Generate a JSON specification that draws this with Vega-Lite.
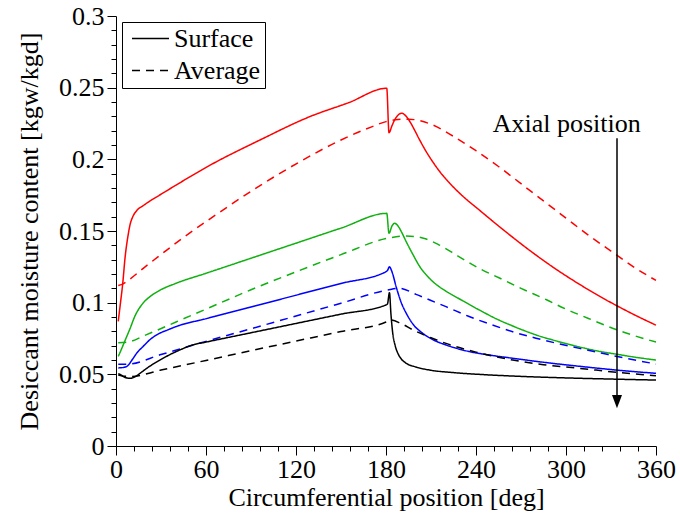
{
  "$schema": "https://vega.github.io/schema/vega-lite/v6.json",
  "width": 540,
  "height": 430,
  "autosize": {"type": "none"},
  "padding": {"left": 116, "top": 16, "right": 24, "bottom": 72},
  "background": "white",
  "config": {
    "view": {"stroke": null},
    "font": "Liberation Serif",
    "axis": {
      "grid": false,
      "domainColor": "black",
      "tickColor": "black",
      "labelColor": "black",
      "titleColor": "black",
      "labelFont": "Liberation Serif",
      "titleFont": "Liberation Serif",
      "labelFontSize": 26,
      "titleFontSize": 26,
      "titleFontWeight": "normal",
      "labelOverlap": false,
      "labelFlush": false
    }
  },
  "datasets": {
    "curves": [
      {"pos":"1","type":"Surface","x":1.5,"y":0.087},{"pos":"1","type":"Surface","x":3,"y":0.100},{"pos":"1","type":"Surface","x":4.5,"y":0.1135},{"pos":"1","type":"Surface","x":6,"y":0.131},{"pos":"1","type":"Surface","x":7.9,"y":0.146},{"pos":"1","type":"Surface","x":9.5,"y":0.155},{"pos":"1","type":"Surface","x":11.2,"y":0.160},{"pos":"1","type":"Surface","x":14,"y":0.1645},{"pos":"1","type":"Surface","x":17.9,"y":0.1675},{"pos":"1","type":"Surface","x":23,"y":0.1712},{"pos":"1","type":"Surface","x":29,"y":0.175},{"pos":"1","type":"Surface","x":40,"y":0.182},{"pos":"1","type":"Surface","x":62,"y":0.1955},{"pos":"1","type":"Surface","x":96,"y":0.2135},{"pos":"1","type":"Surface","x":129,"y":0.2297},{"pos":"1","type":"Surface","x":155,"y":0.2395},{"pos":"1","type":"Surface","x":180.5,"y":0.2496},{"pos":"1","type":"Surface","x":182,"y":0.2186},{"pos":"1","type":"Surface","x":184,"y":0.2235},{"pos":"1","type":"Surface","x":186,"y":0.228},{"pos":"1","type":"Surface","x":188,"y":0.2308},{"pos":"1","type":"Surface","x":190.5,"y":0.2322},{"pos":"1","type":"Surface","x":193,"y":0.2305},{"pos":"1","type":"Surface","x":196,"y":0.2262},{"pos":"1","type":"Surface","x":199,"y":0.2205},{"pos":"1","type":"Surface","x":202.3,"y":0.2138},{"pos":"1","type":"Surface","x":206,"y":0.2068},{"pos":"1","type":"Surface","x":211.2,"y":0.1982},{"pos":"1","type":"Surface","x":216,"y":0.1912},{"pos":"1","type":"Surface","x":220,"y":0.1862},{"pos":"1","type":"Surface","x":226,"y":0.1795},{"pos":"1","type":"Surface","x":231,"y":0.1745},{"pos":"1","type":"Surface","x":242,"y":0.1648},{"pos":"1","type":"Surface","x":258,"y":0.151},{"pos":"1","type":"Surface","x":276,"y":0.1363},{"pos":"1","type":"Surface","x":292,"y":0.1243},{"pos":"1","type":"Surface","x":309,"y":0.1128},{"pos":"1","type":"Surface","x":322,"y":0.1047},{"pos":"1","type":"Surface","x":334,"y":0.0978},{"pos":"1","type":"Surface","x":347,"y":0.0908},{"pos":"1","type":"Surface","x":360,"y":0.0843},

      {"pos":"1","type":"Average","x":1.5,"y":0.112},{"pos":"1","type":"Average","x":4,"y":0.1128},{"pos":"1","type":"Average","x":8,"y":0.1155},{"pos":"1","type":"Average","x":20,"y":0.1255},{"pos":"1","type":"Average","x":31,"y":0.1344},{"pos":"1","type":"Average","x":45,"y":0.1455},{"pos":"1","type":"Average","x":62,"y":0.158},{"pos":"1","type":"Average","x":92,"y":0.179},{"pos":"1","type":"Average","x":122,"y":0.198},{"pos":"1","type":"Average","x":150,"y":0.2135},{"pos":"1","type":"Average","x":170,"y":0.2225},{"pos":"1","type":"Average","x":180,"y":0.2263},{"pos":"1","type":"Average","x":188,"y":0.2278},{"pos":"1","type":"Average","x":195,"y":0.228},{"pos":"1","type":"Average","x":210,"y":0.2245},{"pos":"1","type":"Average","x":225,"y":0.216},{"pos":"1","type":"Average","x":240,"y":0.206},{"pos":"1","type":"Average","x":255,"y":0.195},{"pos":"1","type":"Average","x":270,"y":0.183},{"pos":"1","type":"Average","x":285,"y":0.171},{"pos":"1","type":"Average","x":300,"y":0.159},{"pos":"1","type":"Average","x":315,"y":0.147},{"pos":"1","type":"Average","x":330,"y":0.136},{"pos":"1","type":"Average","x":345,"y":0.125},{"pos":"1","type":"Average","x":360,"y":0.1155},

      {"pos":"2","type":"Surface","x":1.5,"y":0.0625},{"pos":"2","type":"Surface","x":3,"y":0.066},{"pos":"2","type":"Surface","x":5,"y":0.071},{"pos":"2","type":"Surface","x":7,"y":0.076},{"pos":"2","type":"Surface","x":9,"y":0.081},{"pos":"2","type":"Surface","x":13,"y":0.0915},{"pos":"2","type":"Surface","x":17.9,"y":0.0995},{"pos":"2","type":"Surface","x":23,"y":0.1045},{"pos":"2","type":"Surface","x":29,"y":0.1085},{"pos":"2","type":"Surface","x":40,"y":0.1135},{"pos":"2","type":"Surface","x":60,"y":0.1205},{"pos":"2","type":"Surface","x":90,"y":0.131},{"pos":"2","type":"Surface","x":120,"y":0.1415},{"pos":"2","type":"Surface","x":150,"y":0.152},{"pos":"2","type":"Surface","x":180.5,"y":0.1623},{"pos":"2","type":"Surface","x":182,"y":0.1484},{"pos":"2","type":"Surface","x":184,"y":0.1535},{"pos":"2","type":"Surface","x":185.7,"y":0.1554},{"pos":"2","type":"Surface","x":188,"y":0.1535},{"pos":"2","type":"Surface","x":190.5,"y":0.149},{"pos":"2","type":"Surface","x":193.5,"y":0.1425},{"pos":"2","type":"Surface","x":198,"y":0.1335},{"pos":"2","type":"Surface","x":202,"y":0.126},{"pos":"2","type":"Surface","x":208,"y":0.118},{"pos":"2","type":"Surface","x":215,"y":0.1115},{"pos":"2","type":"Surface","x":220,"y":0.108},{"pos":"2","type":"Surface","x":230,"y":0.102},{"pos":"2","type":"Surface","x":242,"y":0.095},{"pos":"2","type":"Surface","x":255,"y":0.088},{"pos":"2","type":"Surface","x":265,"y":0.0835},{"pos":"2","type":"Surface","x":280,"y":0.0775},{"pos":"2","type":"Surface","x":300,"y":0.0715},{"pos":"2","type":"Surface","x":320,"y":0.0665},{"pos":"2","type":"Surface","x":334,"y":0.064},{"pos":"2","type":"Surface","x":347,"y":0.0618},{"pos":"2","type":"Surface","x":360,"y":0.060},

      {"pos":"2","type":"Average","x":1.5,"y":0.072},{"pos":"2","type":"Average","x":8,"y":0.0725},{"pos":"2","type":"Average","x":20,"y":0.0775},{"pos":"2","type":"Average","x":40,"y":0.0865},{"pos":"2","type":"Average","x":60,"y":0.0955},{"pos":"2","type":"Average","x":90,"y":0.109},{"pos":"2","type":"Average","x":120,"y":0.1215},{"pos":"2","type":"Average","x":150,"y":0.1335},{"pos":"2","type":"Average","x":181,"y":0.1449},{"pos":"2","type":"Average","x":193.5,"y":0.1465},{"pos":"2","type":"Average","x":205,"y":0.145},{"pos":"2","type":"Average","x":215,"y":0.1405},{"pos":"2","type":"Average","x":228,"y":0.1325},{"pos":"2","type":"Average","x":242,"y":0.124},{"pos":"2","type":"Average","x":256,"y":0.117},{"pos":"2","type":"Average","x":270,"y":0.11},{"pos":"2","type":"Average","x":287,"y":0.102},{"pos":"2","type":"Average","x":300,"y":0.0955},{"pos":"2","type":"Average","x":315,"y":0.089},{"pos":"2","type":"Average","x":334,"y":0.081},{"pos":"2","type":"Average","x":347,"y":0.0765},{"pos":"2","type":"Average","x":360,"y":0.0725},

      {"pos":"3","type":"Surface","x":1.5,"y":0.0545},{"pos":"3","type":"Surface","x":5,"y":0.0548},{"pos":"3","type":"Surface","x":7.8,"y":0.056},{"pos":"3","type":"Surface","x":11,"y":0.0605},{"pos":"3","type":"Surface","x":14,"y":0.065},{"pos":"3","type":"Surface","x":17.9,"y":0.0693},{"pos":"3","type":"Surface","x":23,"y":0.0745},{"pos":"3","type":"Surface","x":29,"y":0.0786},{"pos":"3","type":"Surface","x":35,"y":0.0812},{"pos":"3","type":"Surface","x":40,"y":0.0833},{"pos":"3","type":"Surface","x":60,"y":0.0888},{"pos":"3","type":"Surface","x":90,"y":0.097},{"pos":"3","type":"Surface","x":120,"y":0.1052},{"pos":"3","type":"Surface","x":150,"y":0.1134},{"pos":"3","type":"Surface","x":180,"y":0.1216},{"pos":"3","type":"Surface","x":181,"y":0.1225},{"pos":"3","type":"Surface","x":182.3,"y":0.125},{"pos":"3","type":"Surface","x":184,"y":0.1215},{"pos":"3","type":"Surface","x":186.8,"y":0.111},{"pos":"3","type":"Surface","x":190,"y":0.1005},{"pos":"3","type":"Surface","x":193.5,"y":0.0926},{"pos":"3","type":"Surface","x":198,"y":0.085},{"pos":"3","type":"Surface","x":204.5,"y":0.0786},{"pos":"3","type":"Surface","x":212,"y":0.0738},{"pos":"3","type":"Surface","x":220,"y":0.0705},{"pos":"3","type":"Surface","x":235,"y":0.066},{"pos":"3","type":"Surface","x":250,"y":0.0633},{"pos":"3","type":"Surface","x":264.5,"y":0.0612},{"pos":"3","type":"Surface","x":290,"y":0.0578},{"pos":"3","type":"Surface","x":310,"y":0.0555},{"pos":"3","type":"Surface","x":333.5,"y":0.053},{"pos":"3","type":"Surface","x":360,"y":0.0507},

      {"pos":"3","type":"Average","x":1.5,"y":0.057},{"pos":"3","type":"Average","x":7,"y":0.057},{"pos":"3","type":"Average","x":30,"y":0.0638},{"pos":"3","type":"Average","x":55,"y":0.0715},{"pos":"3","type":"Average","x":90,"y":0.0818},{"pos":"3","type":"Average","x":120,"y":0.0907},{"pos":"3","type":"Average","x":150,"y":0.0996},{"pos":"3","type":"Average","x":181,"y":0.1088},{"pos":"3","type":"Average","x":189,"y":0.110},{"pos":"3","type":"Average","x":200,"y":0.1058},{"pos":"3","type":"Average","x":210,"y":0.1015},{"pos":"3","type":"Average","x":220,"y":0.0972},{"pos":"3","type":"Average","x":235,"y":0.0905},{"pos":"3","type":"Average","x":250,"y":0.0848},{"pos":"3","type":"Average","x":264.5,"y":0.0797},{"pos":"3","type":"Average","x":280,"y":0.0752},{"pos":"3","type":"Average","x":295,"y":0.0714},{"pos":"3","type":"Average","x":309,"y":0.0681},{"pos":"3","type":"Average","x":325,"y":0.0645},{"pos":"3","type":"Average","x":340,"y":0.0612},{"pos":"3","type":"Average","x":360,"y":0.0572},

      {"pos":"4","type":"Surface","x":1.5,"y":0.0505},{"pos":"4","type":"Surface","x":3,"y":0.0498},{"pos":"4","type":"Surface","x":6,"y":0.0478},{"pos":"4","type":"Surface","x":9.4,"y":0.0472},{"pos":"4","type":"Surface","x":13,"y":0.0485},{"pos":"4","type":"Surface","x":17,"y":0.0515},{"pos":"4","type":"Surface","x":22,"y":0.0553},{"pos":"4","type":"Surface","x":29,"y":0.0598},{"pos":"4","type":"Surface","x":36,"y":0.0638},{"pos":"4","type":"Surface","x":43,"y":0.0672},{"pos":"4","type":"Surface","x":51,"y":0.0705},{"pos":"4","type":"Surface","x":60,"y":0.0725},{"pos":"4","type":"Surface","x":90,"y":0.079},{"pos":"4","type":"Surface","x":120,"y":0.0855},{"pos":"4","type":"Surface","x":150,"y":0.092},{"pos":"4","type":"Surface","x":180,"y":0.0984},{"pos":"4","type":"Surface","x":181,"y":0.0992},{"pos":"4","type":"Surface","x":182.3,"y":0.107},{"pos":"4","type":"Surface","x":183.3,"y":0.092},{"pos":"4","type":"Surface","x":184.5,"y":0.0786},{"pos":"4","type":"Surface","x":186,"y":0.0705},{"pos":"4","type":"Surface","x":188,"y":0.0645},{"pos":"4","type":"Surface","x":190,"y":0.061},{"pos":"4","type":"Surface","x":193.5,"y":0.0577},{"pos":"4","type":"Surface","x":200,"y":0.0551},{"pos":"4","type":"Surface","x":209,"y":0.053},{"pos":"4","type":"Surface","x":225,"y":0.0512},{"pos":"4","type":"Surface","x":245,"y":0.0498},{"pos":"4","type":"Surface","x":264.5,"y":0.0488},{"pos":"4","type":"Surface","x":300,"y":0.0475},{"pos":"4","type":"Surface","x":330,"y":0.0467},{"pos":"4","type":"Surface","x":360,"y":0.046},

      {"pos":"4","type":"Average","x":1.5,"y":0.0495},{"pos":"4","type":"Average","x":5,"y":0.0487},{"pos":"4","type":"Average","x":10,"y":0.0485},{"pos":"4","type":"Average","x":30,"y":0.053},{"pos":"4","type":"Average","x":60,"y":0.0597},{"pos":"4","type":"Average","x":90,"y":0.0665},{"pos":"4","type":"Average","x":120,"y":0.0732},{"pos":"4","type":"Average","x":150,"y":0.0799},{"pos":"4","type":"Average","x":180,"y":0.0865},{"pos":"4","type":"Average","x":183,"y":0.0879},{"pos":"4","type":"Average","x":190,"y":0.0855},{"pos":"4","type":"Average","x":198,"y":0.081},{"pos":"4","type":"Average","x":210,"y":0.0755},{"pos":"4","type":"Average","x":220,"y":0.0716},{"pos":"4","type":"Average","x":240,"y":0.0655},{"pos":"4","type":"Average","x":264.5,"y":0.060},{"pos":"4","type":"Average","x":285,"y":0.0567},{"pos":"4","type":"Average","x":309,"y":0.0542},{"pos":"4","type":"Average","x":335,"y":0.0513},{"pos":"4","type":"Average","x":360,"y":0.049}
    ],
    "arrow": [{"x": 334, "y": 0.2147, "y2": 0.031}],
    "label": [{"x": 300.5, "y": 0.2193, "text": "Axial position"}]
  },
  "layer": [
    {
      "data": {"name": "curves"},
      "mark": {"type": "line", "strokeWidth": 1.5, "interpolate": "monotone"},
      "encoding": {
        "x": {
          "field": "x", "type": "quantitative",
          "scale": {"domain": [0, 360], "nice": false},
          "axis": {
            "title": "Circumferential position [deg]",
            "values": [0,12,24,36,48,60,72,84,96,108,120,132,144,156,168,180,192,204,216,228,240,252,264,276,288,300,312,324,336,348,360],
            "tickCount": 100,
            "labelExpr": "datum.value % 60 === 0 ? datum.label : ''",
            "labelOverlap": false,
            "labelBound": false,
            "tickSize": {"condition": {"test": "datum.value % 60 === 0", "value": 9}, "value": 5},
            "labelPadding": 1,
            "titlePadding": 2
          }
        },
        "y": {
          "field": "y", "type": "quantitative",
          "scale": {"domain": [0, 0.3], "nice": false},
          "axis": {
            "title": "Desiccant moisture content [kgw/kgd]",
            "values": [0,0.01,0.02,0.03,0.04,0.05,0.06,0.07,0.08,0.09,0.1,0.11,0.12,0.13,0.14,0.15,0.16,0.17,0.18,0.19,0.2,0.21,0.22,0.23,0.24,0.25,0.26,0.27,0.28,0.29,0.3],
            "tickCount": 100,
            "labelExpr": "round(datum.value * 100) % 5 === 0 ? format(datum.value, '.2~f') : ''",
            "labelOverlap": false,
            "labelBound": false,
            "tickSize": {"condition": {"test": "round(datum.value * 100) % 5 === 0", "value": 9}, "value": 5},
            "labelPadding": 3,
            "titlePadding": 16
          }
        },
        "color": {
          "field": "pos", "type": "nominal",
          "scale": {"domain": ["1","2","3","4"], "range": ["#ff0000", "#11b011", "#0000ff", "#000000"]},
          "legend": null
        },
        "strokeDash": {
          "field": "type", "type": "nominal",
          "scale": {"domain": ["Surface", "Average"], "range": [[1, 0], [8, 6]]},
          "legend": {
            "title": null,
            "orient": "none",
            "legendX": 6,
            "legendY": 6,
            "strokeColor": "black",
            "fillColor": "white",
            "padding": 4,
            "symbolOffset": 5,
            "symbolType": "stroke",
            "symbolSize": 1369,
            "symbolStrokeWidth": 1.5,
            "symbolStrokeColor": "black",
            "clipHeight": 25,
            "labelFont": "Liberation Serif",
            "labelFontSize": 26,
            "labelColor": "black",
            "labelOffset": 4,
            "rowPadding": 5
          }
        }
      }
    },
    {
      "data": {"name": "arrow"},
      "mark": {"type": "rule", "color": "black", "strokeWidth": 1.5},
      "encoding": {
        "x": {"field": "x", "type": "quantitative"},
        "y": {"field": "y", "type": "quantitative"},
        "y2": {"field": "y2"}
      }
    },
    {
      "data": {"name": "arrow"},
      "mark": {"type": "point", "shape": "M-0.75,-1L0.75,-1L0,1Z", "filled": true, "color": "black", "size": 177, "opacity": 1},
      "encoding": {
        "x": {"field": "x", "type": "quantitative"},
        "y": {"field": "y2", "type": "quantitative"}
      }
    },
    {
      "data": {"name": "label"},
      "mark": {"type": "text", "font": "Liberation Serif", "fontSize": 26, "color": "black", "align": "center", "baseline": "alphabetic"},
      "encoding": {
        "x": {"field": "x", "type": "quantitative"},
        "y": {"field": "y", "type": "quantitative"},
        "text": {"field": "text"}
      }
    }
  ]
}
